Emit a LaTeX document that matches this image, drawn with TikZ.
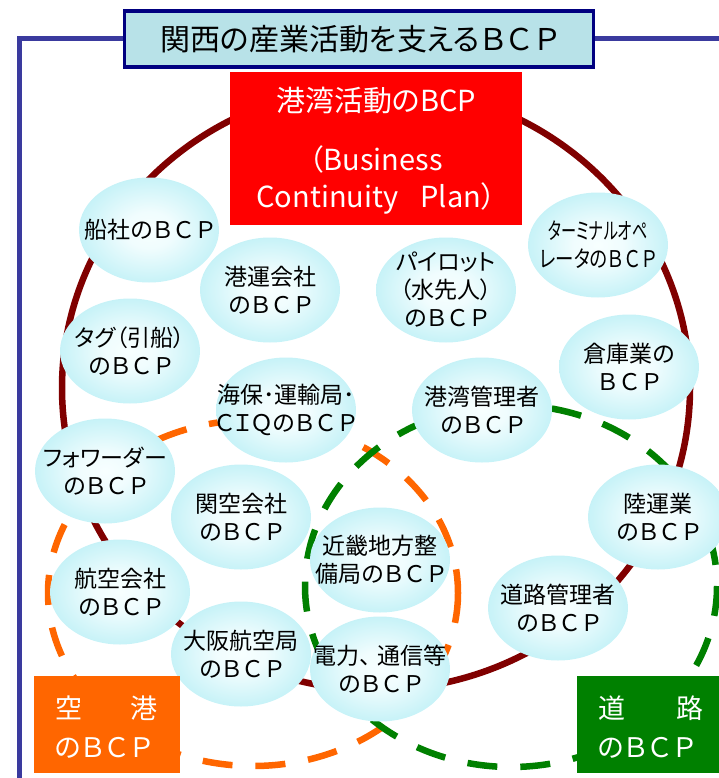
\documentclass[tikz,border=0pt]{standalone}
\usepackage{fontspec}
\setmainfont{Noto Sans CJK JP}[RawFeature={+palt}]
\usetikzlibrary{shapes.geometric}
\definecolor{ringred}{RGB}{128,0,0}
\definecolor{orng}{RGB}{255,102,0}
\definecolor{grn}{RGB}{0,128,0}
\definecolor{navy}{RGB}{0,0,128}
\definecolor{framebl}{RGB}{58,58,158}
\definecolor{titlefill}{RGB}{184,226,232}
\newcommand\BCPs{Ｂ\kern3.5ptＣ\kern3.5ptＰ}
\pgfdeclareradialshading{bubshade}{\pgfpoint{0bp}{0bp}}{rgb(0bp)=(0.97,1,1); rgb(9bp)=(0.94,0.99,0.995); rgb(25bp)=(0.78,0.95,0.97); rgb(50bp)=(0.78,0.95,0.97)}
\tikzset{
  bub/.style={ellipse, minimum width=140pt, minimum height=105pt, inner sep=0pt, shading=bubshade},
  btxt/.style={align=center, font=\fontsize{23}{28}\selectfont, inner sep=0pt},
  dashring/.style={line width=6.5pt, dash pattern=on 30pt off 23pt},
  cornerbox/.style={minimum width=146pt, minimum height=97pt, inner sep=0pt},
  cornertxt/.style={text=white, align=left, anchor=west, inner sep=0pt, font=\fontsize{27}{39}\selectfont}
}
\begin{document}
\begin{tikzpicture}[x=1pt,y=-1pt]
\useasboundingbox (0,0) rectangle (719,778);
% frame line (title box drawn later on top)
\node[minimum width=469pt, minimum height=56pt, inner sep=0pt] (titleghost) at (359,39) {};
\coordinate (fbl) at (19.5,781);
\coordinate (fbr) at (722,39);
\draw[framebl, line width=5pt] (titleghost.west) -- (fbl |- titleghost.west) -- (fbl);
\draw[framebl, line width=5pt] (titleghost.east) -- (fbr);
% rings
\draw[ringred, line width=6.5pt] (376,388) ellipse [x radius=314, y radius=302];
\draw[orng, dashring] (253,593) ellipse [x radius=205, y radius=173];
\draw[grn, dashring] (511,586) ellipse [x radius=206, y radius=181];
% bubbles
\node[bub] (b1) at (149,230) {};
\node[btxt] (b1t) at (b1) {船社の\BCPs};
\node[bub] (b2) at (270,290) {};
\node[btxt] (b2t) at (b2) {港運会社\\の\BCPs};
\node[bub] (b3) at (446,290) {};
\node[btxt] (b3t) at (b3) {パイロット\\（水先人）\\の\BCPs};
\node[bub] (b4) at (598,245) {};
\node[btxt] (b4t) at (b4) {\scalebox{0.66}[1]{ターミナルオペ}\\\scalebox{0.8}[1]{レータの\BCPs}};
\node[bub] (b5) at (130,351) {};
\node[btxt] (b5t) at (b5) {タグ（引船）\\の\BCPs};
\node[bub] (b6) at (629,367) {};
\node[btxt] (b6t) at (b6) {倉庫業の\\\BCPs};
\node[bub] (b7) at (286,410) {};
\node[btxt] (b7t) at (b7) {海保･運輸局･\\ＣＩＱの\BCPs};
\node[bub] (b8) at (482,410) {};
\node[btxt] (b8t) at (b8) {港湾管理者\\の\BCPs};
\node[bub] (b9) at (105,471) {};
\node[btxt] (b9t) at (b9) {フォワーダー\\の\BCPs};
\node[bub] (b10) at (241,517) {};
\node[btxt] (b10t) at (b10) {関空会社\\の\BCPs};
\node[bub] (b11) at (658,517) {};
\node[btxt] (b11t) at (b11) {陸運業\\の\BCPs};
\node[bub] (b12) at (380,560) {};
\node[btxt] (b12t) at (b12) {近畿地方整\\備局の\BCPs};
\node[bub] (b13) at (120,592) {};
\node[btxt] (b13t) at (b13) {航空会社\\の\BCPs};
\node[bub] (b14) at (558,608) {};
\node[btxt] (b14t) at (b14) {道路管理者\\の\BCPs};
\node[bub] (b15) at (241,654) {};
\node[btxt] (b15t) at (b15) {大阪航空局\\の\BCPs};
\node[bub] (b16) at (380,669) {};
\node[btxt] (b16t) at (b16) {電力、\kern7pt 通信等\\の\BCPs};
% red box
\node[fill=red, minimum width=292pt, minimum height=153pt, inner sep=0pt] (port) at (376,148.5) {};
\node[text=white, align=center, inner sep=0pt, font=\fontsize{29}{37}\selectfont] (portt) at (376,151) {港湾活動のBCP\\[22pt]（Business\\Continuity\kern22pt Plan）};
% title
\node[fill=titlefill, draw=navy, line width=3.5pt, minimum width=469pt, minimum height=56pt, inner sep=0pt, font=\fontsize{30}{32}\selectfont] (title) at (359,39) {関西の産業活動を支える\BCPs};
% corner boxes
\node[fill=orng, cornerbox] (air) at (107,724.5) {};
\node[cornertxt] (airt) at (55,727.5) {\makebox[102pt][l]{空\hfill 港}\\の\BCPs};
\node[fill=grn, cornerbox] (road) at (650,724.5) {};
\node[cornertxt] (roadt) at (598,727.5) {\makebox[105pt][l]{道\hfill 路}\\の\BCPs};
\end{tikzpicture}
\end{document}
